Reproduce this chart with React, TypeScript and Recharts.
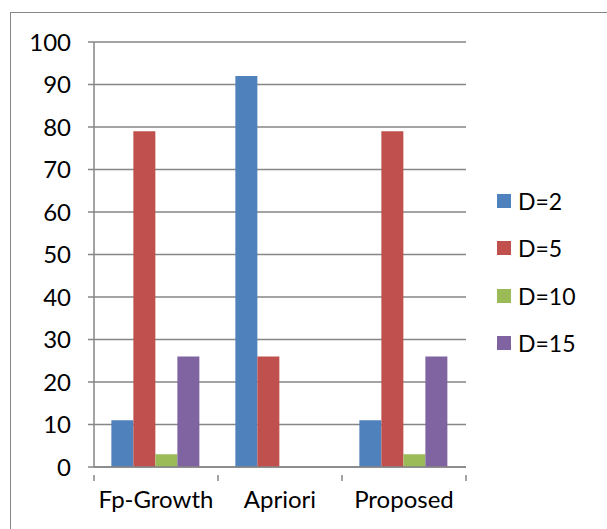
import React from 'react';
import { BarChart, Bar, XAxis, YAxis, CartesianGrid } from 'recharts';

const categories = ['Fp-Growth', 'Apriori', 'Proposed'];
const d2 = [11, 92, 11];
const d5 = [79, 26, 79];
const d10 = [3, 0, 3];
const d15 = [26, 0, 26];
const yTicks = [0, 10, 20, 30, 40, 50, 60, 70, 80, 90, 100];

const series = [
  { key: 'd2', name: 'D=2', color: '#4F81BD', values: d2 },
  { key: 'd5', name: 'D=5', color: '#C0504D', values: d5 },
  { key: 'd10', name: 'D=10', color: '#9BBB59', values: d10 },
  { key: 'd15', name: 'D=15', color: '#8064A2', values: d15 },
];

const data = categories.map((c, i) => {
  const row: any = { cat: c };
  series.forEach((s) => { row[s.key] = s.values[i]; });
  return row;
});

const W = 607;
const H = 529;
const M = { top: 42, right: 141, left: 0, bottom: 0 };
const Y_W = 94;
const FONT = 'Lato, "Open Sans", sans-serif';
const GRAY = '#868686';

const plotW = W - M.right - M.left - Y_W;
const band = plotW / categories.length;

const XTick = (props: any) => {
  const { x, y, payload, index } = props;
  const half = band / 2;
  return (
    <g>
      <line x1={x - half} x2={x - half} y1={y} y2={y + 6} stroke={GRAY} strokeWidth={1.5} />
      {index === categories.length - 1 && (
        <line x1={x + half} x2={x + half} y1={y} y2={y + 6} stroke={GRAY} strokeWidth={1.5} />
      )}
      <text x={x} y={y + 33} textAnchor="middle" fontFamily={FONT} fontSize={24} fill="#000">
        {payload.value}
      </text>
    </g>
  );
};

export default function App() {
  return (
    <div style={{ position: 'absolute', left: 0, top: 0, width: W, height: H, overflow: 'hidden', background: '#fff' }}>
      <div style={{ position: 'absolute', left: 10, top: 12, width: 640, height: 560, border: '1.5px solid #888', boxSizing: 'border-box' }} />
      <div style={{ position: 'absolute', left: 0, top: 0 }}>
        <BarChart width={W} height={H} data={data} margin={M} barCategoryGap="14%" barGap={0}>
          <CartesianGrid vertical={false} stroke={GRAY} strokeWidth={1.5} />
          <XAxis
            dataKey="cat"
            height={62}
            axisLine={{ stroke: GRAY, strokeWidth: 1.5 }}
            tickLine={false}
            tick={<XTick />}
            interval={0}
          />
          <YAxis
            width={Y_W}
            domain={[0, 100]}
            ticks={yTicks}
            interval={0}
            axisLine={{ stroke: GRAY, strokeWidth: 1.5 }}
            tickLine={{ stroke: GRAY, strokeWidth: 1.5 }}
            tickSize={6}
            tickMargin={17}
            tick={{ fill: '#000', fontSize: 24, fontFamily: FONT }}
          />
          {series.map((s) => (
            <Bar key={s.key} dataKey={s.key} name={s.name} fill={s.color} isAnimationActive={false} />
          ))}
        </BarChart>
      </div>
      <div style={{ position: 'absolute', left: 497, top: 177, fontFamily: FONT, fontSize: 23, color: '#000' }}>
        {series.map((s) => (
          <div key={s.key} style={{ display: 'flex', alignItems: 'center', height: 47.5 }}>
            <div style={{ width: 14, height: 14, background: s.color, marginRight: 7 }} />
            <span>{s.name}</span>
          </div>
        ))}
      </div>
    </div>
  );
}
